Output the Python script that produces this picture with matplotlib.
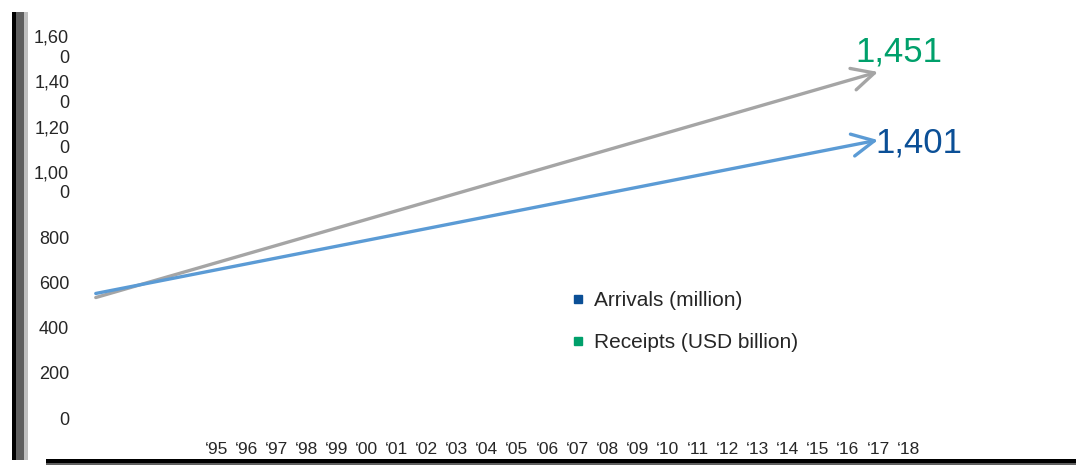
import matplotlib
matplotlib.use("Agg")
import matplotlib.pyplot as plt
import matplotlib.transforms as mtransforms
from matplotlib.lines import Line2D
from matplotlib.patches import Rectangle

plt.rcParams['font.family'] = ['Liberation Sans', 'DejaVu Sans']

# data
years = list(range(1995, 2019))
year_labels = ["‘95", "‘96", "‘97", "‘98", "‘99", "‘00", "‘01", "‘02",
               "‘03", "‘04", "‘05", "‘06", "‘07", "‘08", "‘09", "‘10",
               "‘11", "‘12", "‘13", "‘14", "‘15", "‘16", "‘17", "‘18"]
y_ticks = [0, 200, 400, 600, 800, 1000, 1200, 1400, 1600]
y_tick_labels = ["0", "200", "400", "600", "800",
                 "1,00\n0", "1,20\n0", "1,40\n0", "1,60\n0"]

trend_years = [1991, 2017]
arrivals = [552, 1232]
receipts = [534, 1534]
arrivals_final = "1,401"
receipts_final = "1,451"

blue_line = '#5B9BD5'
grey_line = '#A5A5A5'
blue_text = '#0B4F96'
green_text = '#00A06B'

W, H = 1076, 465
fig = plt.figure(figsize=(W / 100, H / 100), dpi=100)

# axes box in pixels: left 72, right 1076, top 12, bottom 438
ax = fig.add_axes([72 / W, 1 - 438 / H, 1 - 72 / W, (438 - 12) / H])
ax.set_xlim(1990.21, 2023.58)
ax.set_ylim(-88.6, 1799.6)
for s in ax.spines.values():
    s.set_visible(False)

ax.set_xticks(years)
ax.set_xticklabels(year_labels)
ax.set_yticks(y_ticks)
ax.set_yticklabels(y_tick_labels, linespacing=1.25)
ax.tick_params(axis='both', length=0, labelcolor='#262626')
ax.tick_params(axis='y', pad=2, labelsize=13)
ax.tick_params(axis='x', pad=3, labelsize=12.5)

# wrapped labels sit with their last line next to the tick
shift = mtransforms.ScaledTranslation(0, -10 / 100, fig.dpi_scale_trans)
for lab in ax.get_yticklabels():
    if "\n" in lab.get_text():
        lab.set_va('bottom')
        lab.set_transform(lab.get_transform() + shift)

# trend arrows (grey under blue)
for vals, col, label, tcol, off, z in [
        (receipts, grey_line, receipts_final, green_text, (-23, 10), 2),
        (arrivals, blue_line, arrivals_final, blue_text, (-3, -12), 3)]:
    ax.annotate("", xy=(trend_years[1], vals[1]),
                xytext=(trend_years[0], vals[0]),
                arrowprops=dict(arrowstyle='->,head_length=0.8,head_width=0.4',
                                mutation_scale=20, lw=2.4, color=col,
                                shrinkA=0, shrinkB=0),
                zorder=z)
    ax.annotate(label, xy=(trend_years[1], vals[1]), xytext=off,
                textcoords='offset pixels', ha='left', va='baseline',
                fontsize=25, color=tcol, zorder=z + 2)

# legend with small squares
handles = [Line2D([], [], marker='s', ls='none', ms=6, color=blue_text),
           Line2D([], [], marker='s', ls='none', ms=6, color=green_text)]
fig.legend(handles, ["Arrivals (million)", "Receipts (USD billion)"],
           loc='center left', bbox_to_anchor=(572.8 / W, 1 - 321.5 / H),
           frameon=False, fontsize=15, handlelength=0.5, handletextpad=0.52,
           borderpad=0, borderaxespad=0, labelspacing=1.1,
           labelcolor='#262626')

# decorative frame bars on the left and bottom
fig.add_artist(Rectangle((12 / W, 1 - 460 / H), 4 / W, 448 / H,
                         transform=fig.transFigure, color='black', lw=0))
fig.add_artist(Rectangle((16 / W, 1 - 460 / H), 8 / W, 448 / H,
                         transform=fig.transFigure, color='#5f5f5f', lw=0))
fig.add_artist(Rectangle((24 / W, 1 - 460 / H), 4 / W, 448 / H,
                         transform=fig.transFigure, color='#c0c0c0', lw=0))
fig.add_artist(Rectangle((46 / W, 1 - 462.5 / H), 1 - 46 / W, 3.5 / H,
                         transform=fig.transFigure, color='black', lw=0))
fig.add_artist(Rectangle((46 / W, 0), 1 - 46 / W, 2.5 / H,
                         transform=fig.transFigure, color='#606060', lw=0))

fig.savefig("out.png", dpi=100)
